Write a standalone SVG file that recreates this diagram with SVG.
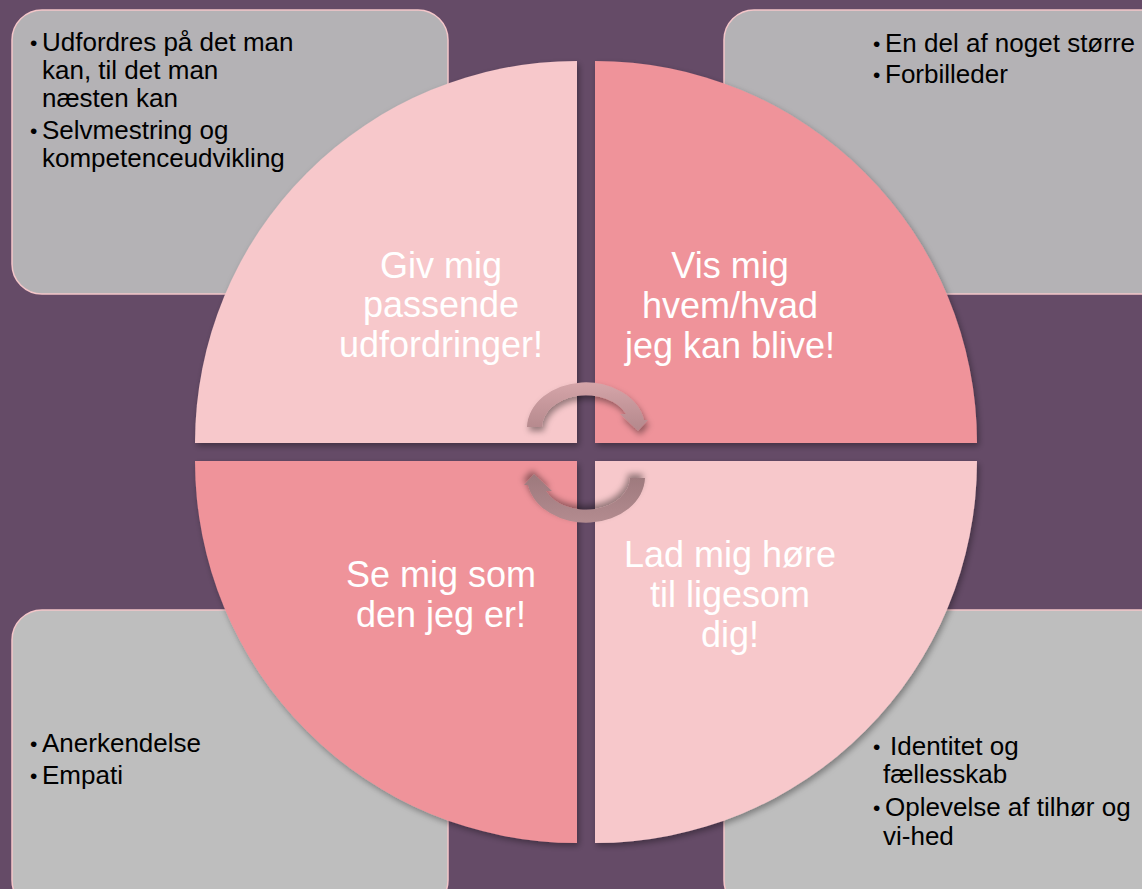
<svg xmlns="http://www.w3.org/2000/svg" width="1142" height="889" viewBox="0 0 1142 889">
<defs>
<style>
.box{stroke:#F4C6C9;stroke-width:1.5}
.boxT{fill:#B4B2B5}
.boxB{fill:#BEBEBE}
.light{fill:#F7C8CB}
.dark{fill:#EF939A}
.big{font-family:"Liberation Sans",Arial,sans-serif;font-size:36px;fill:#FFFFFF;text-anchor:middle}
.bul{font-family:"Liberation Sans",Arial,sans-serif;font-size:26px;fill:#000000}
.dot{font-family:"Liberation Sans",Arial,sans-serif;font-size:21px;fill:#000000}
</style>
<filter id="qs" x="-10%" y="-10%" width="125%" height="125%">
<feDropShadow dx="2" dy="3" stdDeviation="3" flood-color="#000" flood-opacity="0.35"/>
</filter>
<filter id="as" x="-20%" y="-20%" width="150%" height="160%">
<feDropShadow dx="2" dy="4" stdDeviation="3" flood-color="#000" flood-opacity="0.4"/>
</filter>
<linearGradient id="gTop" gradientUnits="userSpaceOnUse" x1="0" y1="381" x2="0" y2="432">
<stop offset="0" stop-color="#D6A6AA"/>
<stop offset="1" stop-color="#B3878B"/>
</linearGradient>
<linearGradient id="gBot" gradientUnits="userSpaceOnUse" x1="0" y1="381" x2="0" y2="432">
<stop offset="0" stop-color="#B48C90"/>
<stop offset="1" stop-color="#9C787C"/>
</linearGradient>
</defs>
<rect x="0" y="0" width="1142" height="889" fill="#654B67"/>

<g id="box-tl"><rect class="box boxT" x="12" y="10" width="436" height="284" rx="30"/>
<text class="dot" x="30" y="50">•</text>
<text class="bul"><tspan x="42" y="51">Udfordres på det man</tspan><tspan x="42" y="79">kan, til det man</tspan><tspan x="42" y="107">næsten kan</tspan></text>
<text class="dot" x="30" y="138">•</text>
<text class="bul"><tspan x="42" y="139">Selvmestring og</tspan><tspan x="42" y="167">kompetenceudvikling</tspan></text>
</g>
<g id="box-tr"><rect class="box boxT" x="724" y="10" width="450" height="284" rx="30"/>
<text class="dot" x="873" y="51">•</text>
<text class="bul" x="885" y="52">En del af noget større</text>
<text class="dot" x="873" y="82">•</text>
<text class="bul" x="885" y="83">Forbilleder</text>
</g>
<g id="box-bl"><rect class="box boxB" x="12" y="610" width="436" height="300" rx="30"/>
<text class="dot" x="30" y="751">•</text>
<text class="bul" x="42" y="752">Anerkendelse</text>
<text class="dot" x="30" y="783">•</text>
<text class="bul" x="42" y="784">Empati</text>
</g>
<g id="box-br"><rect class="box boxB" x="724" y="610" width="450" height="300" rx="30"/>
<text class="dot" x="873" y="754">•</text>
<text class="bul"><tspan x="890" y="755">Identitet og</tspan><tspan x="883" y="783">fællesskab</tspan></text>
<text class="dot" x="873" y="815">•</text>
<text class="bul"><tspan x="885" y="816">Oplevelse af tilhør og</tspan><tspan x="883" y="845">vi-hed</tspan></text>
</g>

<g id="q-tl"><path class="light" filter="url(#qs)" d="M577,443 L195,443 A382,382 0 0 1 577,61 Z"/>
<text class="big"><tspan x="441" y="278">Giv mig</tspan><tspan x="441" y="317">passende</tspan><tspan x="441" y="357">udfordringer!</tspan></text>
</g>
<g id="q-tr"><path class="dark" filter="url(#qs)" d="M595,443 L595,61 A382,382 0 0 1 977,443 Z"/>
<text class="big"><tspan x="730" y="278">Vis mig</tspan><tspan x="730" y="318">hvem/hvad</tspan><tspan x="730" y="358">jeg kan blive!</tspan></text>
</g>
<g id="q-bl"><path class="dark" filter="url(#qs)" d="M577,461 L577,843 A382,382 0 0 1 195,461 Z"/>
<text class="big"><tspan x="441" y="587">Se mig som</tspan><tspan x="441" y="627">den jeg er!</tspan></text>
</g>
<g id="q-br"><path class="light" filter="url(#qs)" d="M595,461 L977,461 A382,382 0 0 1 595,843 Z"/>
<text class="big"><tspan x="730" y="567">Lad mig høre</tspan><tspan x="730" y="607">til ligesom</tspan><tspan x="730" y="647">dig!</tspan></text>
</g>

<g id="connectors">
<path fill="url(#gTop)" filter="url(#as)" d="M527,427 A59,46 0 0 1 644,420 L648,420 L638,431 L620,414 L626,414 A44,32 0 0 0 542,427 Z"/>
<path fill="url(#gBot)" filter="url(#as)" transform="rotate(180 586 452.5)" d="M527,427 A59,46 0 0 1 644,420 L648,420 L638,431 L620,414 L626,414 A44,32 0 0 0 542,427 Z"/>
</g>
</svg>
